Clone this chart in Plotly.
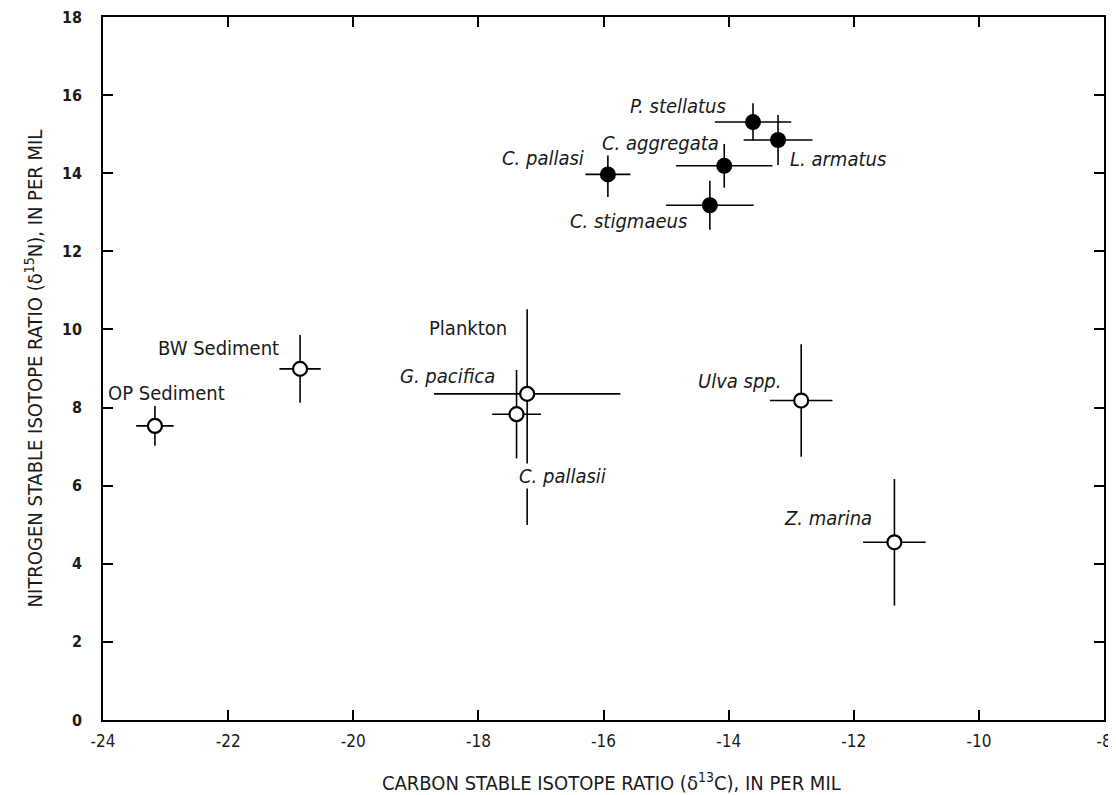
import plotly.graph_objects as go

# open circles: sediments, plankton and prey items
open_names = ["OP Sediment", "BW Sediment", "Plankton", "G. pacifica", "Ulva spp.", "Z. marina"]
open_c13 = [-23.17, -20.85, -17.22, -17.39, -12.84, -11.35]
open_n15 = [7.53, 8.99, 8.35, 7.83, 8.18, 4.55]
open_c13_err = [0.30, 0.33, 1.49, 0.39, 0.50, 0.50]
open_n15_err_plus = [0.51, 0.87, 2.17, 1.13, 1.44, 1.62]
open_n15_err_minus = [0.51, 0.87, 3.36, 1.13, 1.44, 1.62]

# filled circles: fish
fish_names = ["C. pallasi", "C. stigmaeus", "C. aggregata", "P. stellatus", "L. armatus"]
fish_c13 = [-15.93, -14.30, -14.07, -13.61, -13.21]
fish_n15 = [13.97, 13.18, 14.19, 15.31, 14.85]
fish_c13_err = [0.36, 0.70, 0.77, 0.61, 0.55]
fish_n15_err = [0.58, 0.63, 0.56, 0.48, 0.64]

# axis ticks (plain hyphen minus, as printed)
x_ticks = [-24, -22, -20, -18, -16, -14, -12, -10, -8]
x_ticklabels = ["-24", "-22", "-20", "-18", "-16", "-14", "-12", "-10", "-8"]

# label text, italic flag, anchor point (data units) and side
labels = [
    ("P. stellatus", True, -14.03, 15.72, "right"),
    ("C. aggregata", True, -14.14, 14.77, "right"),
    ("L. armatus", True, -13.03, 14.36, "left"),
    ("C. pallasi", True, -16.30, 14.39, "right"),
    ("C. stigmaeus", True, -14.65, 12.78, "right"),
    ("Plankton", False, -17.53, 10.04, "right"),
    ("G. pacifica", True, -17.72, 8.81, "right"),
    ("C. pallasii", True, -17.37, 6.25, "left"),
    ("BW Sediment", False, -21.17, 9.52, "right"),
    ("OP Sediment", False, -23.94, 8.37, "left"),
    ("Ulva spp.", True, -13.13, 8.68, "right"),
    ("Z. marina", True, -11.69, 5.17, "right"),
]

FONT = "DejaVu Sans Condensed, DejaVu Sans"

fig = go.Figure()

fig.add_trace(go.Scatter(
    x=open_c13, y=open_n15, mode="markers", text=open_names,
    marker=dict(size=14, color="white", line=dict(color="black", width=2.2)),
    error_x=dict(type="data", array=open_c13_err, width=0, thickness=1.6, color="black"),
    error_y=dict(type="data", array=open_n15_err_plus, arrayminus=open_n15_err_minus,
                 symmetric=False, width=0, thickness=1.6, color="black"),
    showlegend=False))

fig.add_trace(go.Scatter(
    x=fish_c13, y=fish_n15, mode="markers", text=fish_names,
    marker=dict(size=16, color="black", line=dict(color="black", width=0)),
    error_x=dict(type="data", array=fish_c13_err, width=0, thickness=1.6, color="black"),
    error_y=dict(type="data", array=fish_n15_err, width=0, thickness=1.6, color="black"),
    showlegend=False))

for txt, ital, lx, ly, side in labels:
    fig.add_annotation(
        x=lx, y=ly, text=f"<i>{txt}</i>" if ital else txt, showarrow=False,
        xanchor=side, yanchor="middle", bgcolor="white", borderpad=0,
        font=dict(family=FONT, size=20, color="#1a1a1a"))

# x-axis title as a paper annotation so it sits where the original prints it
fig.add_annotation(
    x=0.5, y=0, xref="paper", yref="paper", xshift=8, yshift=-62,
    text="CARBON STABLE ISOTOPE RATIO (δ<sup>13</sup>C), IN PER MIL", showarrow=False,
    xanchor="center", yanchor="middle", font=dict(family=FONT, size=20, color="#1a1a1a"))

fig.update_xaxes(
    range=[-24, -8], tickvals=x_ticks, ticktext=x_ticklabels,
    ticks="inside", ticklen=10, tickwidth=1.5, tickcolor="black",
    showline=True, linecolor="black", linewidth=1.5, mirror="ticks", showgrid=False, zeroline=False,
    automargin=False, ticklabelstandoff=5, ticklabeloverflow="allow",
    tickfont=dict(family=FONT, size=17, color="#1a1a1a"))
fig.update_yaxes(
    range=[0, 18], dtick=2, ticks="inside", ticklen=10, tickwidth=1.5, tickcolor="black",
    showline=True, linecolor="black", linewidth=1.5, mirror="ticks", showgrid=False, zeroline=False,
    automargin=False, ticklabelstandoff=16, ticklabeloverflow="allow",
    tickfont=dict(family=FONT, size=16, color="#1a1a1a", weight="bold"),
    title=dict(text="NITROGEN STABLE ISOTOPE RATIO (δ<sup>15</sup>N), IN PER MIL",
               font=dict(family=FONT, size=20, color="#1a1a1a"), standoff=14))

fig.update_layout(
    width=1116, height=795, plot_bgcolor="white", paper_bgcolor="white",
    margin=dict(l=95, r=20, t=9, b=83))

fig.write_html("out.html")
